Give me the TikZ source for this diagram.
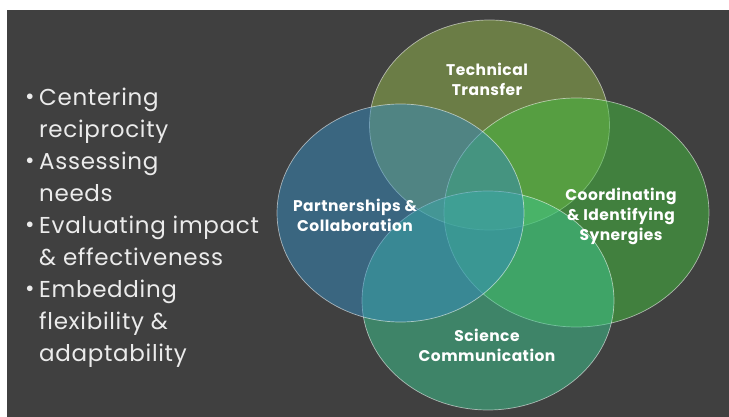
\documentclass[tikz,border=0pt]{standalone}
\usepackage{fontspec}
\setmainfont{Poppins}[LetterSpace=3]

\definecolor{slide}{HTML}{404040}
\definecolor{techcol}{RGB}{150,186,76}
\definecolor{partcol}{RGB}{54,140,192}
\definecolor{coordcol}{RGB}{66,192,62}
\definecolor{scicol}{RGB}{62,200,144}

\tikzset{
  set/.style={fill opacity=0.5, draw=white, draw opacity=0.55, line width=0.7pt},
  setlabel/.style={text=white, font=\bfseries\fontsize{15.5}{20}\selectfont, align=center},
  bullets/.style={text=white!92!black, font=\fontsize{23}{32}\selectfont, align=left, anchor=north west, inner sep=0pt}
}

\newcommand{\bul}{\makebox[14pt][l]{\raisebox{1pt}{\textbullet}}}
\newcommand{\ind}{\hspace*{14pt}}

\begin{document}
\begin{tikzpicture}[x=1pt,y=-1pt]

    % page and slide
    \fill[white] (0,0) rectangle (729,417);
    \fill[slide] (7,10) rectangle (729,417);

    % the four sets, back to front
    \draw[set, fill=techcol]  (489.5,125) ellipse (120 and 105);
    \draw[set, fill=coordcol] (576.5,212.5) ellipse (132.5 and 114.5);
    \draw[set, fill=scicol]   (488,300.5) ellipse (126 and 109.5);
    \draw[set, fill=partcol]  (400.5,213) ellipse (123.5 and 109);

    % set names
    \node[setlabel] (tech)  at (487,79)  {Technical\\Transfer};
    \node[setlabel] (part)  at (355,215) {Partnerships \&\\Collaboration};
    \node[setlabel] (coord) at (621,216) {Coordinating\\\& Identifying\\Synergies};
    \node[setlabel] (sci)   at (487,345) {Science\\Communication};

    % list on the left
    \node[bullets] (list) at (25,88) {%
      \bul Centering\\
      \ind reciprocity\\
      \bul Assessing\\
      \ind needs\\
      \bul Evaluating impact\\
      \ind \& effectiveness\\
      \bul Embedding\\
      \ind flexibility \&\\
      \ind adaptability};

\end{tikzpicture}
\end{document}
